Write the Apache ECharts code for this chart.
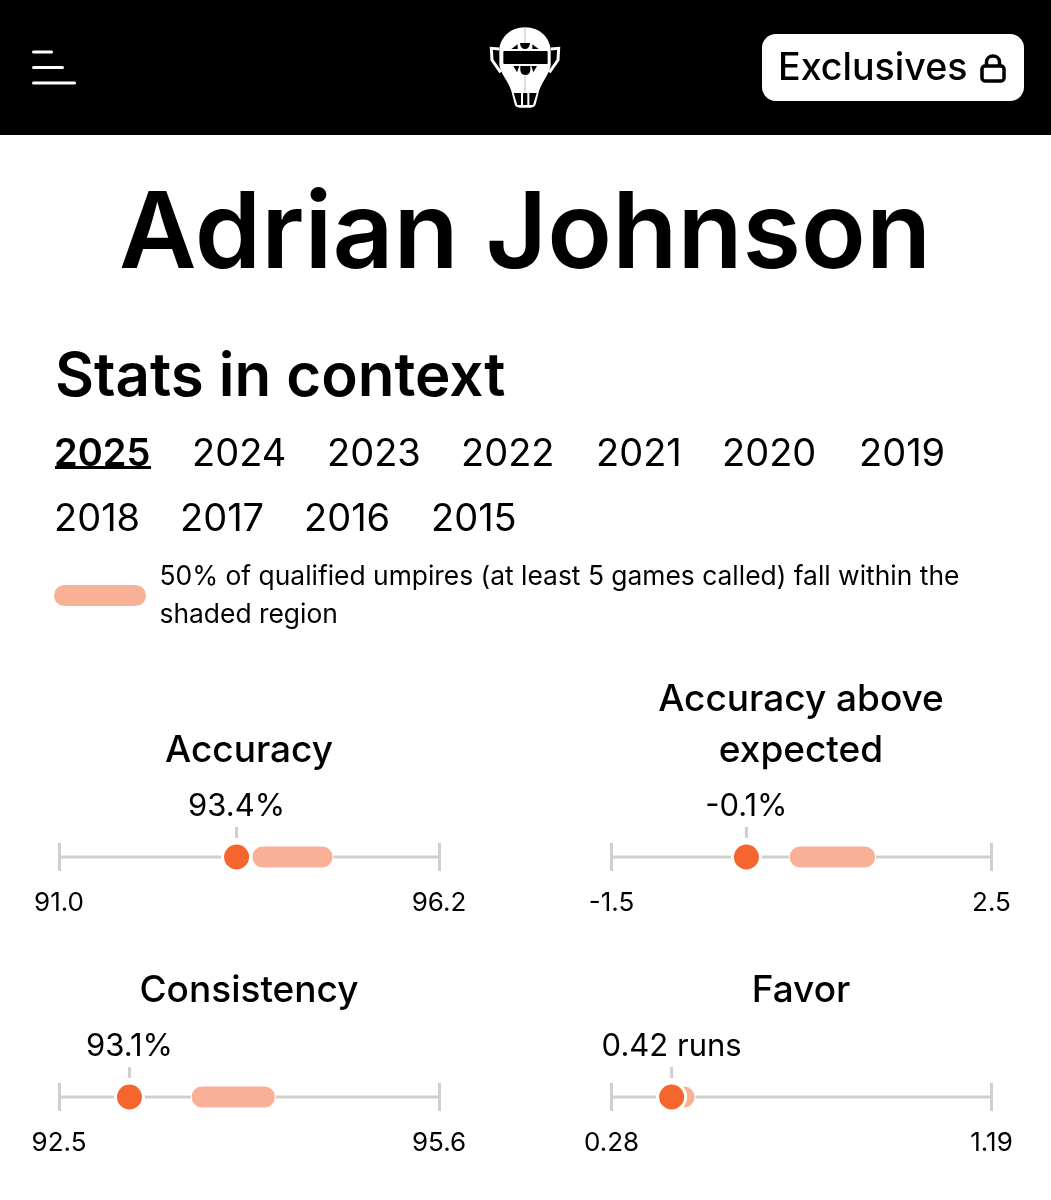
<!DOCTYPE html>
<html>
<head>
<meta charset="utf-8">
<style>html,body{margin:0;padding:0;background:#fff}#chart{width:1051px;height:1200px}</style>
<script src="https://cdn.jsdelivr.net/npm/echarts@6/dist/echarts.min.js"></script>
</head>
<body>
<div id="chart"></div>
<script>
// Umpire stat panels
const statNames = ['Accuracy', 'Accuracy above\nexpected', 'Consistency', 'Favor'];
const statValues = [93.4, -0.1, 93.1, 0.42];
const statLabels = ['93.4%', '-0.1%', '93.1%', '0.42 runs'];
const axisLows = [90.97, -1.52, 92.54, 0.276];
const axisHighs = [96.17, 2.48, 95.56, 1.186];
const lowTickLabels = ['91.0', '-1.5', '92.5', '0.28'];
const highTickLabels = ['96.2', '2.5', '95.6', '1.19'];
const middleLows = [93.61, 0.35, 93.59, 0.386];
const middleHighs = [94.72, 1.26, 94.26, 0.476];
const yearsRowOne = ['2025', '2024', '2023', '2022', '2021', '2020', '2019'];
const yearsRowTwo = ['2018', '2017', '2016', '2015'];

const FONT = 'Inter';
const BAND = '#F8B196';
const DOT = '#F4662D';
const RULE = '#CFCFCF';

// Panel geometry: two columns, two rows
const panelLeft = [59, 611.5, 59, 611.5];
const panelTop = [843, 843, 1083, 1083];
const PANEL_W = 380;
const PANEL_H = 28;
const titleCenter = [249, 801, 249, 801];
const titleTop = [725, 674, 965, 965];

const grids = [], xAxes = [], yAxes = [], series = [], titles = [];

titles.push({
  text: 'Adrian Johnson', left: 525, top: 182, textAlign: 'center', padding: 0,
  textStyle: { fontFamily: FONT, fontSize: 106.5, fontWeight: 600, color: '#000' }
});
titles.push({
  text: 'Stats in context', left: 55, top: 348, padding: 0,
  textStyle: { fontFamily: FONT, fontSize: 60, fontWeight: 600, color: '#000' }
});

statNames.forEach((name, i) => {
  grids.push({ left: panelLeft[i], top: panelTop[i], width: PANEL_W, height: PANEL_H });
  titles.push({
    text: name, left: titleCenter[i], top: titleTop[i], textAlign: 'center', padding: 0,
    textStyle: { fontFamily: FONT, fontSize: 37, fontWeight: 500, color: '#000', lineHeight: 51 }
  });
  xAxes.push({
    gridIndex: i, type: 'value', min: axisLows[i], max: axisHighs[i],
    axisLine: { show: false },
    axisTick: { show: false, customValues: [axisLows[i], axisHighs[i]] },
    splitLine: { show: true, lineStyle: { color: RULE, width: 3 }, showMinLine: true, showMaxLine: true },
    axisLabel: {
      customValues: [axisLows[i], axisHighs[i]],
      margin: 19, fontFamily: FONT, fontSize: 26, color: '#000', hideOverlap: false,
      showMinLabel: true, showMaxLabel: true,
      formatter: (v) => (Math.abs(v - axisLows[i]) < Math.abs(v - axisHighs[i]) ? lowTickLabels[i] : highTickLabels[i])
    }
  });
  yAxes.push({ gridIndex: i, type: 'value', min: -1, max: 1, show: false });

  // baseline between the two axis ends
  series.push({
    type: 'line', xAxisIndex: i, yAxisIndex: i, silent: true, symbol: 'none', z: 2,
    data: [[axisLows[i], 0], [axisHighs[i], 0]],
    lineStyle: { color: RULE, width: 3 }
  });
  // shaded middle 50% pill, with the short stem above the marker
  series.push({
    type: 'custom', xAxisIndex: i, yAxisIndex: i, silent: true, z: 3,
    data: [[middleLows[i], middleHighs[i], statValues[i]]],
    renderItem: (params, api) => {
      const a = api.coord([api.value(0), 0]);
      const b = api.coord([api.value(1), 0]);
      const m = api.coord([api.value(2), 0]);
      return {
        type: 'group',
        children: [
          { type: 'rect', shape: { x: a[0], y: a[1] - 11, width: b[0] - a[0], height: 22, r: 11 },
            style: { fill: BAND, stroke: '#fff', lineWidth: 1 } },
          { type: 'line', shape: { x1: m[0], y1: m[1] - 30, x2: m[0], y2: m[1] - 19 },
            style: { stroke: RULE, lineWidth: 3 } }
        ]
      };
    }
  });
  // the umpire's own value
  series.push({
    type: 'scatter', xAxisIndex: i, yAxisIndex: i, silent: true, z: 4,
    data: [[statValues[i], 0]],
    symbol: 'circle', symbolSize: 28,
    itemStyle: { color: DOT, borderColor: '#fff', borderWidth: 3, opacity: 1 },
    label: {
      show: true, position: 'top', distance: 19, formatter: statLabels[i],
      fontFamily: FONT, fontSize: 31, color: '#000'
    }
  });
});

// Header emblem and padlock icon, as path shapes
series.push({
  type: 'custom', coordinateSystem: 'none', silent: true, z: 10, data: [0],
  renderItem: () => ({
    type: 'group',
    children: [
      { type: 'path', shape: { pathData: 'M986.5 66 V62 C986.5 54 999.5 54 999.5 62 V66' }, style: { fill: 'none', stroke: '#000', lineWidth: 3.5 } },
      {
        // catcher's mask, drawn in a 330x315 box
        type: 'group', x: 470, y: 15, scaleX: 1 / 3, scaleY: 1 / 3,
        children: [
          { type: 'path', shape: { pathData: 'M165 37 C118 37 88 72 88 108 L88 150 C92 178 114 196 124 228 L134 268 Q137 278 148 278 L182 278 Q193 278 197 268 L207 228 C218 196 238 178 242 150 L242 108 C242 72 212 37 165 37 Z' }, style: { fill: '#fff' } },
          { type: 'path', shape: { pathData: 'M88 102 L64 100 L66 135 L92 172 M242 102 L266 100 L264 135 L238 172' }, style: { fill: 'none', stroke: '#fff', lineWidth: 9 } },
          { type: 'rect', shape: { x: 100, y: 108, width: 133, height: 39, r: 3 }, style: { fill: '#000' } },
          { type: 'path', shape: { pathData: 'M124 102 L143 102 L143 88 Z M150 84 L180 84 Q178 102 165 102 Q152 102 150 84 Z M187 88 L187 102 L206 102 Z' }, style: { fill: '#000' } },
          { type: 'path', shape: { pathData: 'M130 153 L148 153 L141 172 Z M151 153 L181 153 Q184 180 166 180 Q148 180 151 153 Z M184 153 L201 153 L190 172 Z' }, style: { fill: '#000' } },
          { type: 'path', shape: { pathData: 'M131 234 L153 234 L153 270 L142 270 Z M159 234 L172 234 L172 270 L159 270 Z M178 234 L200 234 L189 270 L178 270 Z' }, style: { fill: '#000' } },
          { type: 'path', shape: { pathData: 'M165 37 V84 M165 182 V232' }, style: { fill: 'none', stroke: '#999', lineWidth: 2 } }
        ]
      }
    ]
  })
});

// Page furniture: header bar, year tabs, legend
const graphics = [
  { type: 'rect', shape: { x: 0, y: 0, width: 1051, height: 135 }, style: { fill: '#000' } },
  { type: 'rect', shape: { x: 32, y: 50.5, width: 21, height: 3, r: 1.5 }, style: { fill: '#fff' } },
  { type: 'rect', shape: { x: 32, y: 66, width: 32, height: 3, r: 1.5 }, style: { fill: '#fff' } },
  { type: 'rect', shape: { x: 32, y: 81.5, width: 44, height: 3, r: 1.5 }, style: { fill: '#fff' } },
  { type: 'rect', shape: { x: 762, y: 34, width: 262, height: 67, r: 14 }, style: { fill: '#fff' } },
  { type: 'text', x: 778, y: 69, style: { text: 'Exclusives', font: '500 37.6px ' + FONT, fill: '#000', verticalAlign: 'middle' } },
  { type: 'rect', shape: { x: 982, y: 66, width: 22, height: 15, r: 3 }, style: { fill: 'none', stroke: '#000', lineWidth: 3.5 } },
  { type: 'rect', shape: { x: 55, y: 466, width: 96, height: 3 }, style: { fill: '#000' } },
  { type: 'rect', shape: { x: 54, y: 585, width: 92, height: 21, r: 10.5 }, style: { fill: BAND } },
  { type: 'text', x: 159.5, y: 577, style: { text: '50% of qualified umpires (at least 5 games called) fall within the', font: '400 26.4px ' + FONT, fill: '#000', verticalAlign: 'middle' } },
  { type: 'text', x: 159.5, y: 615, style: { text: 'shaded region', font: '400 26.4px ' + FONT, fill: '#000', verticalAlign: 'middle' } }
];
const rowOneX = [54, 192, 327, 461, 596, 722, 859];
const rowTwoX = [54, 180, 304, 431];
yearsRowOne.forEach((y, i) => graphics.push({
  type: 'text', x: rowOneX[i], y: 455,
  style: { text: y, font: (i === 0 ? '600' : '400') + ' 38px ' + FONT, fill: '#000', verticalAlign: 'middle' }
}));
yearsRowTwo.forEach((y, i) => graphics.push({
  type: 'text', x: rowTwoX[i], y: 520,
  style: { text: y, font: '400 38px ' + FONT, fill: '#000', verticalAlign: 'middle' }
}));

const chart = echarts.init(document.getElementById('chart'));
chart.setOption({
  animation: false,
  backgroundColor: '#fff',
  title: titles,
  grid: grids,
  xAxis: xAxes,
  yAxis: yAxes,
  series: series,
  graphic: { elements: graphics }
});
</script>
</body>
</html>
